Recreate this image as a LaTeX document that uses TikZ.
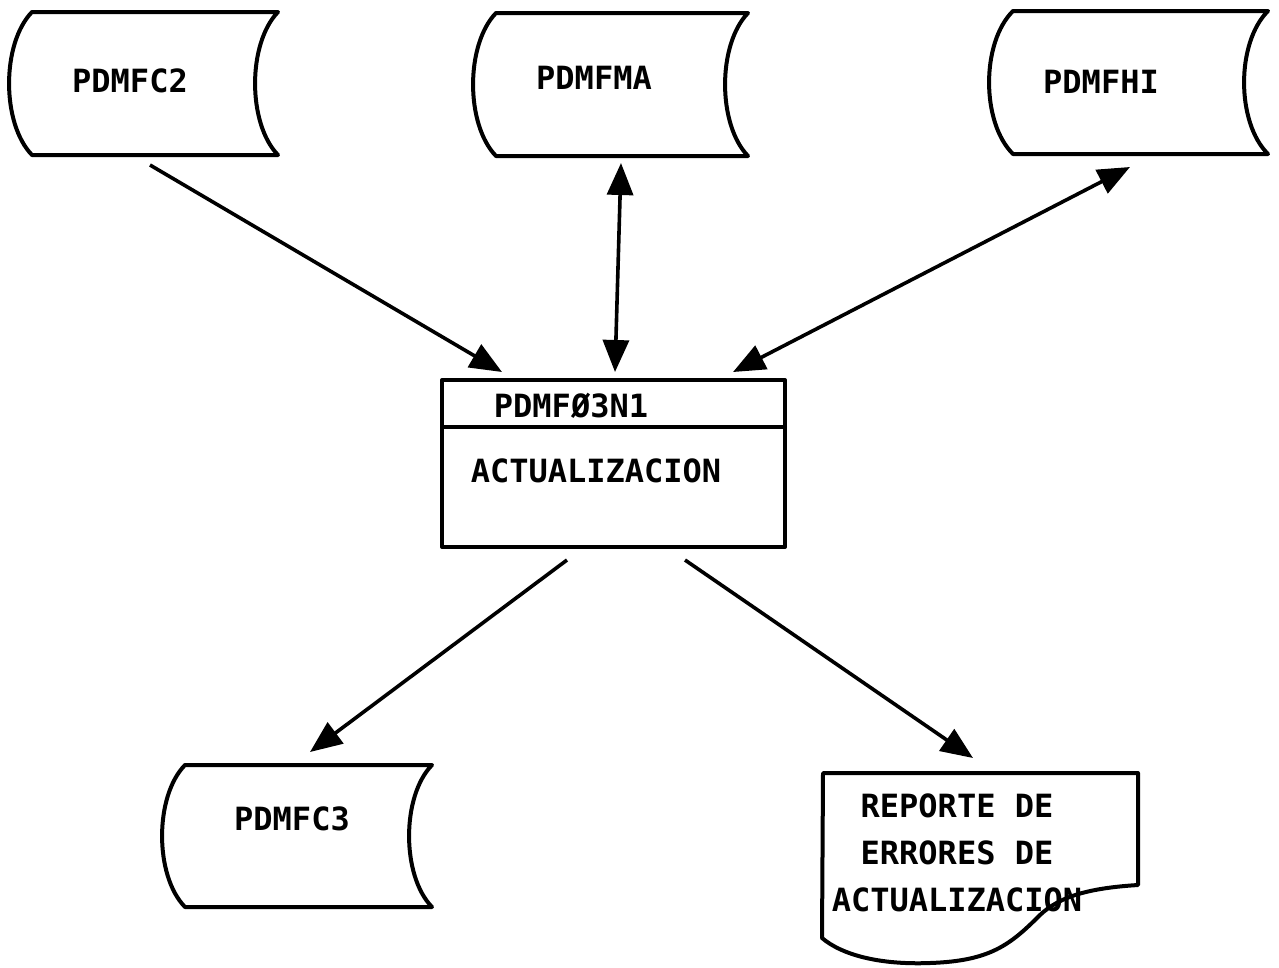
\documentclass[tikz,border=0pt]{standalone}
\usepackage{fontspec}
\newfontfamily\monofont{DejaVu Sans Mono}
\usetikzlibrary{arrows.meta}
\newcommand{\tapeshape}[5]{%
  \draw[shp] (#1,#2) -- (#3,#2)
    .. controls ({#3-1.33*#5},{#2+0.22*(#4-#2)}) and ({#3-1.33*#5},{#4-0.22*(#4-#2)}) .. (#3,#4)
    -- (#1,#4)
    .. controls ({#1-1.33*#5},{#4-0.22*(#4-#2)}) and ({#1-1.33*#5},{#2+0.22*(#4-#2)}) .. cycle;}
\begin{document}
\begin{tikzpicture}[x=1pt,y=-1pt,
  shp/.style={draw, line width=4pt, line join=round, line cap=round},
  lbl/.style={font=\monofont\bfseries\fontsize{32}{47}\selectfont, inner sep=0pt, align=center},
  arr/.style={line width=3.6pt, -{Triangle[length=32pt,width=26pt]}},
  darr/.style={line width=3.6pt, {Triangle[length=32pt,width=26pt]}-{Triangle[length=32pt,width=26pt]}}]
\useasboundingbox[fill=white] (0,0) rectangle (1279,967);

% tapes (files)
\tapeshape{32}{12}{278}{155}{23}
\tapeshape{496}{13}{748}{156}{23}
\tapeshape{1013}{11}{1268}{154}{24}
\tapeshape{185}{765}{432}{907}{23}
\node[lbl] (c2) at (130,81) {PDMFC2};
\node[lbl] (ma) at (594,78) {PDMFMA};
\node[lbl] (hi) at (1101,82) {PDMFHI};
\node[lbl] (c3) at (292,819) {PDMFC3};

% process box
\node[shp, minimum width=343pt, minimum height=167pt, inner sep=0pt] (proc) at (613.5,463.5) {};
\coordinate (divl) at (442,427);
\coordinate (divr) at (785,427);
\draw[shp] (divl) -- (divr);
\node[lbl] (pname) at (571,406) {PDMFØ3N1};
\node[lbl] (ptext) at (596,471) {ACTUALIZACION};

% report (document)
\draw[shp] (823,773) -- (1138,773) -- (1138,885)
  .. controls (1090,888) and (1060,896) .. (1040,915)
  .. controls (1010,945) and (990,961) .. (930,963)
  .. controls (880,965) and (842,955) .. (822,938) -- cycle;
\node[lbl] (doc) at (957,853) {REPORTE DE\\ERRORES DE\\ACTUALIZACION};

% connectors
\coordinate (a1s) at (150,165);
\coordinate (a1e) at (502,372);
\coordinate (a2s) at (621,163);
\coordinate (a2e) at (615,372);
\coordinate (a3s) at (1130,167);
\coordinate (a3e) at (733,372);
\coordinate (a4s) at (567,560);
\coordinate (a4e) at (310,752);
\coordinate (a5s) at (685,560);
\coordinate (a5e) at (973,758);
\draw[arr] (a1s) -- (a1e);
\draw[darr] (a2s) -- (a2e);
\draw[darr] (a3s) -- (a3e);
\draw[arr] (a4s) -- (a4e);
\draw[arr] (a5s) -- (a5e);
\end{tikzpicture}
\end{document}
